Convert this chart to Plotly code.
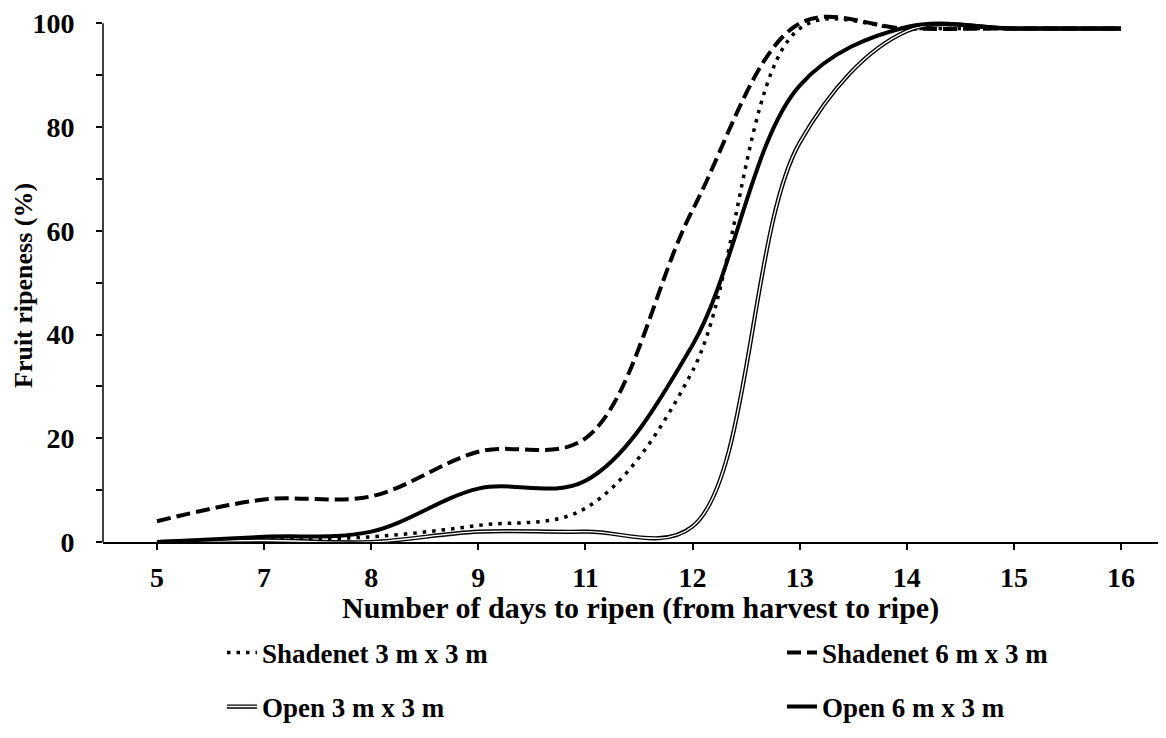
import plotly.graph_objects as go

# ---- data ----
days = ["5", "7", "8", "9", "11", "12", "13", "14", "15", "16"]
shadenet_3x3 = [0, 0.5, 1, 3.2, 6.5, 33, 99, 99, 99, 99]
shadenet_6x3 = [4, 8.2, 8.8, 17.4, 20, 64, 100, 99, 99, 99]
open_3x3 = [0, 0.3, 0, 2, 2, 3, 77, 98.5, 99, 99]
open_6x3 = [0, 1, 2, 10.3, 11.8, 38, 88, 99.3, 99, 99]
y_ticks = [0, 20, 40, 60, 80, 100]

FONT = "Liberation Serif, Times New Roman, serif"

fig = go.Figure()

fig.add_trace(go.Scatter(
    x=days, y=shadenet_3x3, mode="lines", name="Shadenet 3 m x 3 m",
    line=dict(color="black", width=3.5, dash="3.5px,6px", shape="spline", smoothing=1),
    legend="legend"))
fig.add_trace(go.Scatter(
    x=days, y=shadenet_6x3, mode="lines", name="Shadenet 6 m x 3 m",
    line=dict(color="black", width=4, dash="14px,6px", shape="spline", smoothing=1),
    legend="legend2"))
fig.add_trace(go.Scatter(
    x=days, y=open_3x3, mode="lines", name="Open 3 m x 3 m",
    line=dict(color="black", width=4.2, shape="spline", smoothing=1),
    legend="legend3"))
fig.add_trace(go.Scatter(
    x=days, y=open_3x3, mode="lines", name=" ",
    line=dict(color="white", width=1.4, shape="spline", smoothing=1),
    legend="legend5", hoverinfo="skip"))
fig.add_trace(go.Scatter(
    x=days, y=open_6x3, mode="lines", name="Open 6 m x 3 m",
    line=dict(color="black", width=4, shape="spline", smoothing=1),
    legend="legend4"))

# page body has an 8px margin: figure is drawn 8px right/down of the page origin
OFF = 8
W, H = 1166 - OFF, 738 - OFF
L, R, T, B = 103 - OFF, 0, 13 - OFF, 196
ph = H - T - B
pw = W - L - R


def py(pix):  # pix in page coordinates
    return (H - B - (pix - OFF)) / ph


def px(pix):
    return ((pix - OFF) - L) / pw


tickfont = dict(family=FONT, size=28, color="black", weight="bold")


def leg(xpix, ypix):
    return dict(
        orientation="h", xanchor="left", yanchor="middle",
        x=px(xpix), y=py(ypix),
        font=dict(family=FONT, size=27, color="black", weight="bold"),
        bgcolor="rgba(0,0,0,0)", borderwidth=0, itemwidth=30, visible=True,
    )


ROW1, ROW2 = 653, 707
COL1, COL2 = 222, 782

fig.update_layout(
    width=W, height=H,
    showlegend=True,
    margin=dict(l=L, r=R, t=T, b=B, pad=0, autoexpand=False),
    paper_bgcolor="white", plot_bgcolor="white",
    font=dict(family=FONT, color="black"),
    xaxis=dict(
        type="category", range=[-0.504, 9.42],
        showline=True, linecolor="black", linewidth=1.5,
        ticks="outside", ticklen=6, tickwidth=1.5, tickcolor="black",
        showgrid=False, zeroline=False, tickfont=tickfont,
        ticklabelstandoff=4, automargin=False,
    ),
    yaxis=dict(
        range=[0, 102], tickvals=y_ticks, ticktext=[str(v) for v in y_ticks],
        showline=False,
        ticks="outside", ticklen=6, tickwidth=1.5, tickcolor="black",
        minor=dict(tickvals=[10, 30, 50, 70, 90], ticks="outside", ticklen=6,
                   tickwidth=1.5, tickcolor="black", showgrid=False),
        showgrid=False, zeroline=False, tickfont=tickfont,
        ticklabelstandoff=16, automargin=False,
    ),
    legend=leg(COL1, ROW1),
    legend2=leg(COL2, ROW1),
    legend3=leg(COL1, ROW2),
    legend4=leg(COL2, ROW2),
    legend5=leg(COL1, ROW2),
    shapes=[dict(type="line", xref="paper", yref="y", x0=0, x1=0, y0=0, y1=100,
                 line=dict(color="black", width=1.5))],
    annotations=[
        dict(text="Number of days to ripen (from harvest to ripe)", xref="paper", yref="paper",
             x=px(640), y=py(608), showarrow=False, xanchor="center", yanchor="middle",
             font=dict(family=FONT, size=30, color="black", weight="bold")),
        dict(text="Fruit ripeness (%)", xref="paper", yref="paper",
             x=px(23), y=py(286), showarrow=False, xanchor="center", yanchor="middle",
             textangle=-90,
             font=dict(family=FONT, size=26, color="black", weight="bold")),
    ],
)

fig.write_html("out.html")
